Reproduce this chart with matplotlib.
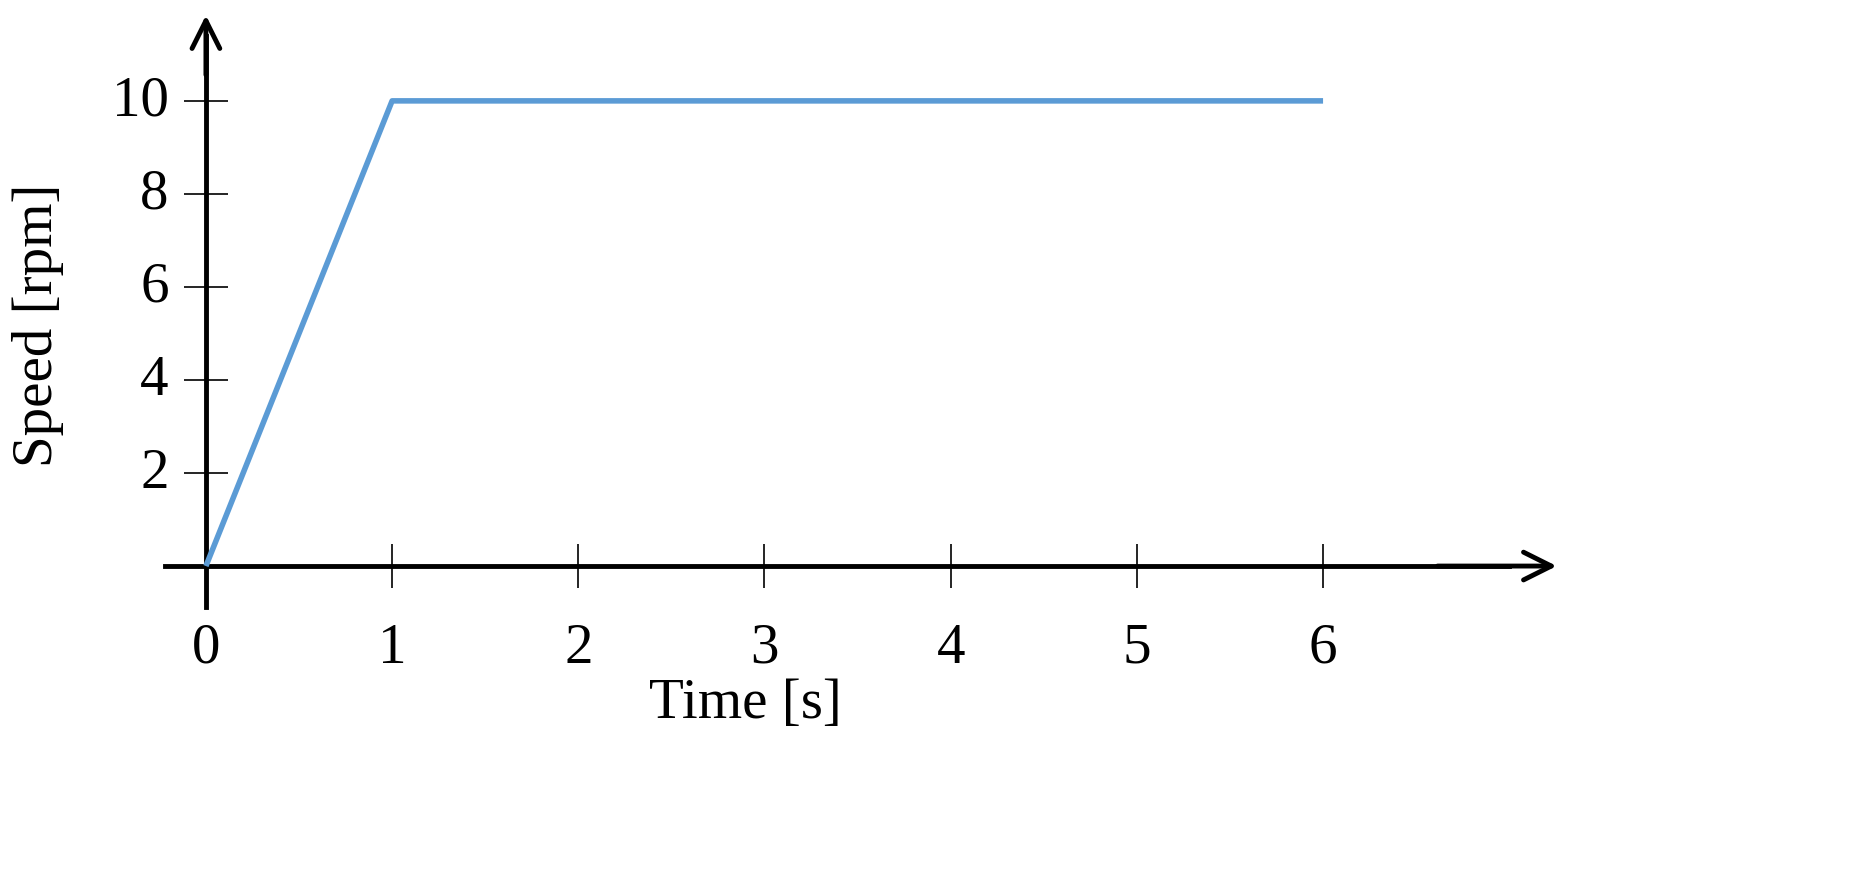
import matplotlib.pyplot as plt

time_s = [0, 1, 6]
speed_rpm = [0, 10, 10]
xticks = [1, 2, 3, 4, 5, 6]
yticks = [2, 4, 6, 8, 10]

plt.rcParams['font.family'] = ['Liberation Serif', 'DejaVu Serif']

fig = plt.figure(figsize=(18.63, 8.95), dpi=100)
ax = fig.add_axes([0, 0, 1, 1])
ax.set_xlim(-1.106, 8.9)
ax.set_ylim(-7.05, 12.19)
ax.patch.set_alpha(0)

ax.plot(time_s, speed_rpm, color='#5B9BD5', lw=4, solid_capstyle='butt', zorder=3)

for s in ['top', 'right']:
    ax.spines[s].set_visible(False)
ax.spines['left'].set_position(('data', 0))
ax.spines['bottom'].set_position(('data', 0))
ax.spines['left'].set_bounds(-0.88, 11.4)
ax.spines['bottom'].set_bounds(-0.22, 7.0)
for s in ['left', 'bottom']:
    ax.spines[s].set_linewidth(3.5)

ax.set_xticks(xticks)
ax.set_yticks(yticks)
ax.set_xticklabels([])
ax.set_yticklabels([])
ax.tick_params(direction='inout', length=32, width=1.2, color='black')

fs = 41
for x in [0] + xticks:
    ax.text(x, -1.2, str(x), ha='center', va='top', fontsize=fs)
for y in yticks:
    ax.text(-0.2, y, str(y), ha='right', va='center', fontsize=fs)

ax.text(2.9, -2.95, 'Time [s]', ha='center', va='center', fontsize=fs)
ax.text(-0.9, 5.2, 'Speed [rpm]', ha='center', va='center', rotation=90, fontsize=fs)

arrow = dict(arrowstyle='->,head_length=2.0,head_width=1.0', lw=3.5, color='black')
ax.annotate('', xy=(0, 11.9), xytext=(0, 10.5), arrowprops=arrow)
ax.annotate('', xy=(7.27, 0), xytext=(6.6, 0), arrowprops=arrow)

fig.savefig('out.png', dpi=100)
